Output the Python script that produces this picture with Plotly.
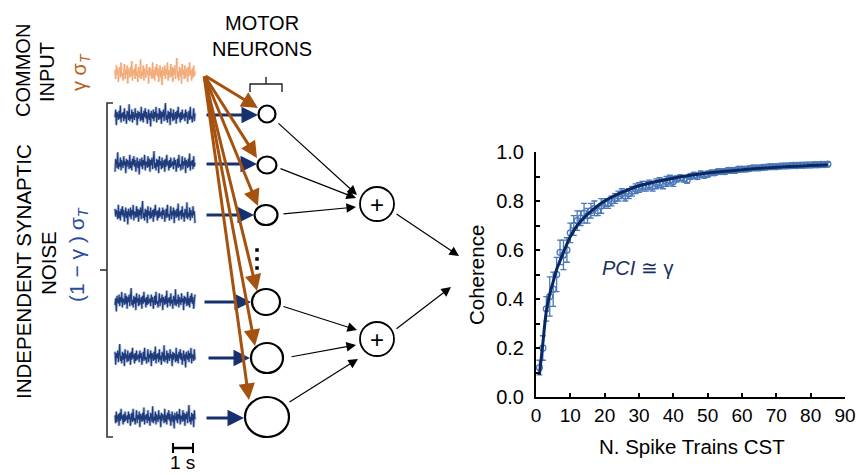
import plotly.graph_objects as go

W, H = 859, 475

# ---------------- data ----------------
n_trains = list(range(1, 86))
coherence = [0.12, 0.20, 0.36, 0.41, 0.44, 0.50, 0.59, 0.58, 0.60, 0.67,
             0.70, 0.72, 0.73, 0.75, 0.74, 0.76, 0.77, 0.76, 0.78, 0.79,
             0.79, 0.80, 0.81, 0.82, 0.83, 0.82, 0.83, 0.84, 0.85, 0.855,
             0.86, 0.86, 0.865, 0.86, 0.87, 0.875, 0.87, 0.88, 0.885, 0.88,
             0.89, 0.895, 0.89, 0.885, 0.90, 0.905, 0.90, 0.91, 0.905, 0.91,
             0.915, 0.915, 0.92, 0.92, 0.92, 0.925, 0.925, 0.925, 0.93, 0.93,
             0.93, 0.932, 0.935, 0.935, 0.935, 0.937, 0.938, 0.94, 0.94, 0.94,
             0.942, 0.943, 0.943, 0.944, 0.945, 0.945, 0.946, 0.946, 0.947, 0.947,
             0.948, 0.948, 0.949, 0.949, 0.95]
coherence_err = [0.03, 0.05, 0.05, 0.08, 0.07, 0.07, 0.05, 0.06, 0.05, 0.04,
                 0.04, 0.04, 0.03, 0.04, 0.03, 0.03, 0.03, 0.02, 0.03, 0.02,
                 0.02, 0.02, 0.02, 0.02, 0.02, 0.02, 0.02, 0.02, 0.02, 0.02,
                 0.02, 0.02, 0.02, 0.02, 0.02, 0.02, 0.02, 0.02, 0.02, 0.02,
                 0.012, 0.012, 0.012, 0.012, 0.012, 0.012, 0.012, 0.012, 0.012, 0.012,
                 0.01, 0.01, 0.01, 0.01, 0.01, 0.01, 0.01, 0.01, 0.01, 0.01,
                 0.008, 0.008, 0.008, 0.008, 0.008, 0.008, 0.008, 0.008, 0.008, 0.008,
                 0.008, 0.008, 0.008, 0.008, 0.008, 0.008, 0.008, 0.008, 0.008, 0.008,
                 0.008, 0.008, 0.008, 0.008, 0.008]
fit_n = [1, 2, 3, 4, 5, 6, 8, 10, 12, 15, 20, 25, 30, 40, 50, 60, 70, 85]
fit_coherence = [0.09, 0.22, 0.35, 0.42, 0.47, 0.52, 0.59, 0.655, 0.70, 0.745,
                 0.80, 0.835, 0.862, 0.893, 0.914, 0.928, 0.938, 0.948]

x_tick_vals = [0, 10, 20, 30, 40, 50, 60, 70, 80, 90]
y_tick_vals = [0.0, 0.2, 0.4, 0.6, 0.8, 1.0]
y_tick_text = ["0.0", "0.2", "0.4", "0.6", "0.8", "1.0"]

# hand-typed illustrative noise samples for the schematic traces
noise = [0.2, -0.4, 0.5, -0.1, 0.3, -0.6, 0.1, 0.4, -0.3, 0.7, -0.2, 0.0, -0.5, 0.3, 0.6,
         -0.4, 0.2, -0.1, 0.5, -0.7, 0.3, 0.1, -0.3, 0.4, -0.2, 0.8, -0.5, 0.2, -0.1, 0.3,
         -0.4, 0.6, -0.2, 0.1, -0.6, 0.4, 0.2, -0.3, 0.9, -0.4, 0.1, -0.2, 0.5, -0.5, 0.3,
         0.0, -0.3, 0.6, -0.1, 0.2, -0.7, 0.4, -0.2, 0.3, 0.1, -0.4, 0.7, -0.3, 0.2, -0.5,
         0.4, -0.1, 0.6, -0.2, 0.3, -0.6, 0.1, 0.5, -0.3, 0.2, -0.8, 0.4, 0.0, -0.2, 0.5,
         -0.4, 0.3, -0.1, 0.7, -0.5, 0.2, 0.1, -0.3, 0.6, -0.2, 0.4, -0.6, 0.3, -0.1, 0.5,
         -0.4, 0.2, 1.0, -0.3, 0.1, -0.5, 0.4, -0.2, 0.3, -0.7, 0.6, -0.1, 0.2, -0.4, 0.5,
         -0.3, 0.1, 0.3, -0.6, 0.4, -0.2, 0.7, -0.1, 0.2, -0.5, 0.3, -0.3, 0.5, -0.2, 0.1]

# ---------------- styles / layout helpers ----------------
FONT = "Liberation Sans, Arial, Helvetica, sans-serif"
BROWN = "#a5520f"
NAVY = "#17306e"
ORANGE_TXT = "#b8631c"
BLUE_TXT = "#2b4c9b"
MARK_BLUE = "#4a78b8"
FIT_BLUE = "#0b2661"

fig = go.Figure()

# ---------------- right: coherence chart ----------------
fig.add_trace(go.Scatter(
    x=n_trains, y=coherence, mode="markers",
    marker=dict(symbol="circle-open", size=6, color=MARK_BLUE, line=dict(width=1.3, color=MARK_BLUE)),
    error_y=dict(type="data", array=coherence_err, color=MARK_BLUE, thickness=1.3, width=3),
    xaxis="x", yaxis="y", showlegend=False, hoverinfo="skip"))
fig.add_trace(go.Scatter(
    x=fit_n, y=fit_coherence, mode="lines", line=dict(color=FIT_BLUE, width=3, shape="spline", smoothing=0.8),
    xaxis="x", yaxis="y", showlegend=False, hoverinfo="skip"))

# ---------------- left: schematic (pixel-space overlay axes) ----------------
trace_x0, trace_x1 = 115, 195
n_pts = len(noise)
xs = [trace_x0 + i * (trace_x1 - trace_x0) / (n_pts - 1) for i in range(n_pts)]

def noise_trace(center, amp, offset, color, halo, width):
    ys = [center - amp * noise[(i + offset) % n_pts] for i in range(n_pts)]
    fig.add_trace(go.Scatter(x=xs, y=ys, mode="lines", line=dict(color=halo, width=width + 1.8),
                             xaxis="x2", yaxis="y2", showlegend=False, hoverinfo="skip"))
    fig.add_trace(go.Scatter(x=xs, y=ys, mode="lines", line=dict(color=color, width=width),
                             xaxis="x2", yaxis="y2", showlegend=False, hoverinfo="skip"))

noise_trace(73, 15, 0, "#f2a874", "rgba(248,200,165,0.5)", 1.0)
for k, cy in enumerate([116, 164, 214, 301, 357, 418]):
    noise_trace(cy, 13, 17 * (k + 1), "#1e3b7b", "rgba(90,115,175,0.45)", 1.1)

shapes = []
# left bracket
shapes.append(dict(type="path", path="M113,103 L107,103 L107,437 L113,437", xref="x2", yref="y2",
                   line=dict(color="#333333", width=1.6)))
shapes.append(dict(type="line", x0=100, x1=107, y0=270, y1=270, xref="x2", yref="y2",
                   line=dict(color="#333333", width=1.6)))
# motor neuron bracket
shapes.append(dict(type="path", path="M250,92 L250,84 L282,84 L282,92", xref="x2", yref="y2",
                   line=dict(color="#222222", width=1.4)))
shapes.append(dict(type="line", x0=266, x1=266, y0=84, y1=77, xref="x2", yref="y2",
                   line=dict(color="#222222", width=1.4)))
# 1 s scale bar
shapes.append(dict(type="line", x0=173, x1=193, y0=448, y1=448, xref="x2", yref="y2",
                   line=dict(color="black", width=2.5)))
shapes.append(dict(type="line", x0=173, x1=173, y0=443, y1=453, xref="x2", yref="y2",
                   line=dict(color="black", width=2)))
shapes.append(dict(type="line", x0=193, x1=193, y0=443, y1=453, xref="x2", yref="y2",
                   line=dict(color="black", width=2)))

# motor neuron circles (cx, cy, rx, ry)
neurons = [(267, 114, 8.5, 8.5), (267, 165, 9.5, 8.5), (266, 215, 11.5, 10),
           (266, 302, 14, 13), (267, 358, 16, 15), (267, 417, 22, 20)]
for cx, cy, rx, ry in neurons:
    shapes.append(dict(type="circle", x0=cx - rx, x1=cx + rx, y0=cy - ry, y1=cy + ry,
                       xref="x2", yref="y2", line=dict(color="black", width=2.2),
                       fillcolor="white"))
# summation circles
for cy in (204, 339):
    shapes.append(dict(type="circle", x0=360, x1=394, y0=cy - 17, y1=cy + 17,
                       xref="x2", yref="y2", line=dict(color="black", width=1.8),
                       fillcolor="white"))

annotations = []

def arrow(x0, y0, x1, y1, color, width, size, head=2):
    annotations.append(dict(x=x1, y=y1, ax=x0, ay=y0, xref="x2", yref="y2", axref="x2", ayref="y2",
                            text="", showarrow=True, arrowhead=head, arrowsize=size,
                            arrowwidth=width, arrowcolor=color, standoff=0, startstandoff=0))

# blue input arrows
for (x0, x1, y) in [(205, 258, 115), (205, 257, 164), (205, 254, 215),
                    (203, 251, 302), (207, 250, 358), (205, 244, 418)]:
    arrow(x0, y, x1, y, NAVY, 3, 1.1)

# brown common-input arrows
for (x1, y1) in [(258, 108), (257, 158), (258, 206), (257, 291), (255, 346), (249, 400)]:
    arrow(204, 75, x1, y1, BROWN, 3, 1.1)

# black arrows to summation nodes
for (x0, y0, x1, y1) in [(277, 122, 357, 195), (279, 168, 356, 198), (282, 214, 356, 207),
                         (282, 306, 357, 330), (290, 357, 356, 345), (288, 403, 358, 359),
                         (395, 213, 459, 256), (395, 330, 451, 287)]:
    arrow(x0, y0, x1, y1, "black", 1.2, 1.6)

fig.add_trace(go.Scatter(x=[257, 257, 257], y=[250, 259, 268], mode="markers",
                         marker=dict(symbol="square", size=3.5, color="black"),
                         xaxis="x2", yaxis="y2", showlegend=False, hoverinfo="skip"))

def label(x, y, text, size=21, color="black", angle=0, yanchor="middle"):
    annotations.append(dict(x=x, y=y, xref="x2", yref="y2", text=text, showarrow=False,
                            textangle=angle, xanchor="center", yanchor=yanchor,
                            font=dict(family=FONT, size=size, color=color)))

label(262, 23, "MOTOR", 20)
label(262, 49, "NEURONS", 20)
label(23, 71, "COMMON", 20, angle=-90)
label(47, 72, "INPUT", 20, angle=-90)
label(80, 72, "γ σ<sub><i>T</i></sub>", 20, ORANGE_TXT, angle=-90)
label(23, 272, "INDEPENDENT SYNAPTIC", 20.5, angle=-90)
label(48, 263, "NOISE", 20.5, angle=-90)
label(78, 255, "(1 − γ ) σ<sub><i>T</i></sub>", 21, BLUE_TXT, angle=-90)
label(182, 475, "1 s", 19, yanchor="bottom")
label(377, 204, "+", 24)
label(377, 339, "+", 24)

# chart texts
label(637, 268, "<i>PCI</i> ≅ γ", 20, "#1a2f5e")
label(476, 275, "Coherence", 20.5, angle=-90)
label(692, 446, "N. Spike Trains CST", 20.5)

fig.update_layout(
    width=W, height=H, margin=dict(l=0, r=0, t=0, b=0),
    paper_bgcolor="white", plot_bgcolor="rgba(0,0,0,0)",
    font=dict(family=FONT, color="black"),
    shapes=shapes, annotations=annotations,
    xaxis=dict(domain=[536 / W, 845 / W], range=[0, 90], tickvals=x_tick_vals,
               showline=True, linecolor="black", linewidth=2, ticks="inside", ticklen=4,
               tickwidth=1.5, tickcolor="black", showgrid=False, zeroline=False,
               tickfont=dict(size=19, family=FONT), automargin=False, anchor="y", fixedrange=True),
    yaxis=dict(domain=[1 - 397 / H, 1 - 152 / H], range=[0, 1.0], tickvals=y_tick_vals,
               ticktext=y_tick_text, showline=True, linecolor="black", linewidth=2,
               ticks="inside", ticklen=4, tickwidth=1.5, tickcolor="black",
               minor=dict(tickvals=[0.1, 0.3, 0.5, 0.7, 0.9], ticks="inside", ticklen=4,
                          tickwidth=1.5, tickcolor="black"),
               showgrid=False, zeroline=False, tickfont=dict(size=20, family=FONT),
               ticklabelstandoff=6, automargin=False, anchor="x", fixedrange=True),
    xaxis2=dict(domain=[0, 1], range=[0, W], visible=False, anchor="y2", fixedrange=True),
    yaxis2=dict(domain=[0, 1], range=[H, 0], visible=False, anchor="x2", fixedrange=True),
)

fig.write_html("out.html", config={"displayModeBar": False},
               post_script="document.body.style.margin='0px';document.body.style.overflow='hidden';")
